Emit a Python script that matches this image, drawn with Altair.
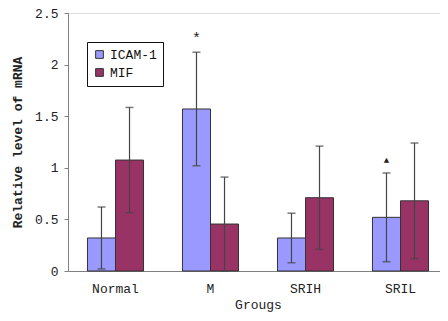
import altair as alt
import pandas as pd

groups = ["Normal", "M", "SRIH", "SRIL"]
series = ["ICAM-1", "MIF"]
icam = [0.32, 1.57, 0.32, 0.52]
icam_err = [0.30, 0.55, 0.24, 0.43]
mif = [1.075, 0.455, 0.71, 0.68]
mif_err = [0.51, 0.455, 0.50, 0.56]
colors = ["#9999FF", "#993366"]

marker_group = ["M", "SRIL"]
marker_text = ["*", "▲"]
marker_y = [2.26, 1.075]
marker_size = [15, 9]

rows = []
for i, g in enumerate(groups):
    rows.append({"group": g, "series": "ICAM-1", "value": icam[i],
                 "lo": max(icam[i] - icam_err[i], 0), "hi": icam[i] + icam_err[i]})
    rows.append({"group": g, "series": "MIF", "value": mif[i],
                 "lo": max(mif[i] - mif_err[i], 0), "hi": mif[i] + mif_err[i]})
df = pd.DataFrame(rows)

mdf = pd.DataFrame({"group": marker_group, "series": ["ICAM-1"] * 2,
                    "y": marker_y, "text": marker_text, "size": marker_size})

FONT = "Liberation Mono"

xscale = alt.Scale(paddingInner=0.41, paddingOuter=0.205, range=[0, 380])
x = alt.X("group:N", sort=groups, title="Grougs", scale=xscale,
          axis=alt.Axis(labelAngle=0, ticks=False, domainColor="#808080",
                        labelFont=FONT, labelFontSize=13, labelColor="#222",
                        labelPadding=11, titleFont=FONT, titleFontSize=13,
                        titleFontWeight="normal", titleColor="#222",
                        titleY=37, titleBaseline="alphabetic"))
xo = alt.XOffset("series:N", sort=series,
                 scale=alt.Scale(paddingInner=0, paddingOuter=0))

bars = alt.Chart(df).mark_bar(stroke="#333", strokeWidth=1).encode(
    x=x, xOffset=xo,
    y=alt.Y("value:Q", title="Relative level of mRNA",
            scale=alt.Scale(domain=[0, 2.5], nice=False),
            axis=alt.Axis(values=[0, 0.5, 1, 1.5, 2, 2.5], grid=False, format="~g",
                          domainColor="#808080", tickColor="#808080", tickSize=4,
                          labelFont=FONT, labelFontSize=13, labelColor="#222",
                          labelPadding=6, titleFont=FONT, titleFontSize=13,
                          titleFontWeight="bold", titleColor="#222", titlePadding=10)),
    color=alt.Color("series:N", sort=series,
                    scale=alt.Scale(domain=series, range=colors),
                    legend=alt.Legend(title=None, orient="none", legendX=19, legendY=29,
                                      strokeColor="#111", padding=6,
                                      symbolType="square", symbolSize=60,
                                      symbolStrokeColor="#333", symbolStrokeWidth=1,
                                      labelFont=FONT, labelFontSize=13, labelColor="#111",
                                      rowPadding=4, symbolOffset=0))
)

rules = alt.Chart(df).mark_rule(color="#444", strokeWidth=1.2).encode(
    x=alt.X("group:N", sort=groups), xOffset=xo,
    y="lo:Q", y2="hi:Q")
caps_hi = alt.Chart(df).mark_tick(color="#444", size=8, thickness=1.5,
                                  orient="horizontal").encode(
    x=alt.X("group:N", sort=groups), xOffset=xo, y="hi:Q")
caps_lo = alt.Chart(df).mark_tick(color="#444", size=8, thickness=1.5,
                                  orient="horizontal").encode(
    x=alt.X("group:N", sort=groups), xOffset=xo, y="lo:Q")

marks = alt.Chart(mdf).mark_text(color="#222", font=FONT, baseline="middle").encode(
    x=alt.X("group:N", sort=groups), xOffset=xo, y="y:Q", text="text:N",
    size=alt.Size("size:Q", scale=None, legend=None))

chart = alt.layer(bars, rules, caps_hi, caps_lo, marks).properties(
    width=372, height=258,
    autosize=alt.AutoSizeParams(type="none"),
    padding={"left": 60, "top": 5, "right": 0, "bottom": 42},
).configure_view(stroke=None).configure(background="white")

chart.save("out.html", embed_options={"renderer": "svg", "actions": False})
